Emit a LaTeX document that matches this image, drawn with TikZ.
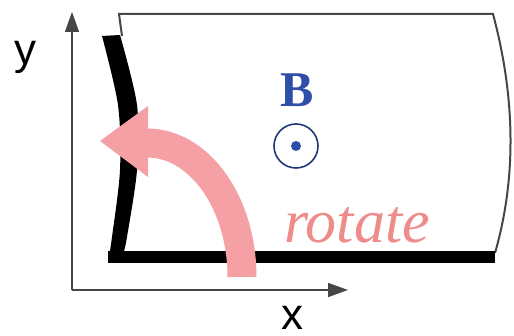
\documentclass[tikz,border=0pt]{standalone}
\usepackage{fontspec}
\setmainfont{Liberation Serif}
\newfontfamily\axfont{Liberation Sans}
\usetikzlibrary{arrows.meta}
\definecolor{pinkarrow}{RGB}{244,160,165}
\definecolor{rotcol}{RGB}{238,140,140}
\definecolor{bblue}{RGB}{46,78,168}
\definecolor{frameg}{RGB}{70,70,70}
\tikzset{
  axisline/.style={line width=1.5pt, draw=frameg, -{Triangle[length=20pt,width=14pt]}},
  thinframe/.style={line width=2pt, draw=frameg},
  thickedge/.style={fill=black},
  axlabel/.style={font=\axfont\fontsize{44}{44}\selectfont, inner sep=0pt, anchor=base},
}
\begin{document}
\begin{tikzpicture}[x=1pt,y=-1pt]
\useasboundingbox (0,0) rectangle (514,336);
% frame
\coordinate (tl) at (119,14);
\coordinate (tr) at (493,14);
\coordinate (br) at (495,253);
\coordinate (tlb) at (122,36);
\draw[thinframe] (tlb) -- (tl) -- (tr) .. controls (516,100) and (516,180) .. (br);
% thick left edge (filled band)
\fill[thickedge] plot[smooth] coordinates {(102,36) (118,105) (120,170) (112,237) (108,263)}
  -- (124,263) -- plot[smooth] coordinates {(124,251) (127,237) (137,170) (137,105) (120,35)} -- cycle;
% thick bottom edge
\coordinate (bl) at (108,257);
\coordinate (brr) at (495,257);
\draw[draw=black, line width=12pt] (bl) -- (brr);
% axes
\coordinate (O) at (72,290);
\coordinate (Y) at (72,12);
\coordinate (X) at (348,290);
\draw[axisline] (O) -- (Y);
\draw[axisline] (O) -- (X);
\node[axlabel] (ylab) at (25,65) {y};
\node[axlabel] (xlab) at (292,330) {x};
% B field
\node[font=\bfseries\fontsize{50}{50}\selectfont, text=bblue, inner sep=0pt] (B) at (297,90) {B};
\node[circle, draw=bblue!70!black, line width=1.6pt, minimum size=44pt, inner sep=0pt] (circ) at (296,146) {};
\fill[bblue] (circ.center) circle (5pt);
% rotate arrow
\coordinate (ab) at (242,277);
\draw[pinkarrow, line width=29pt] (ab) arc[start angle=0, end angle=90, x radius=95, y radius=-134];
\coordinate (hb1) at (148,106);
\coordinate (htip) at (100,141);
\coordinate (hb2) at (148,177);
\fill[pinkarrow] (hb1) -- (htip) -- (hb2) -- cycle;
\node[font=\itshape\fontsize{62}{62}\selectfont, text=rotcol, anchor=base, inner sep=0pt] (rot) at (357,243) {rotate};
\end{tikzpicture}
\end{document}
